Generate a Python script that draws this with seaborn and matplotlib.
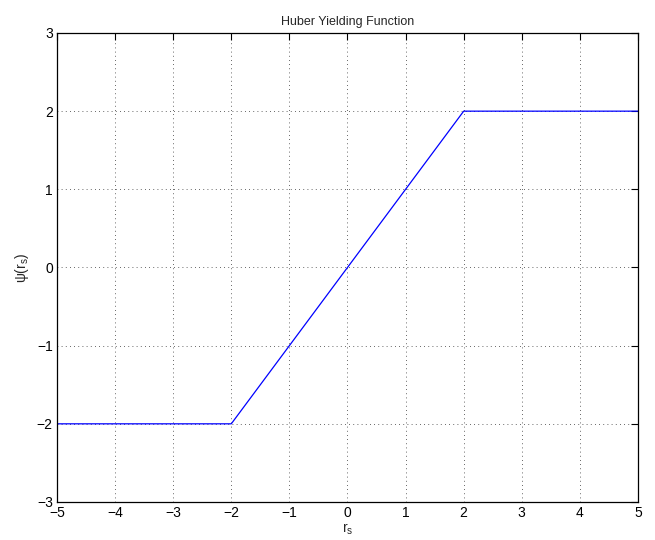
import matplotlib
matplotlib.use("Agg")
import matplotlib.pyplot as plt
import seaborn as sns
import pandas as pd

r_s = [-5, -2, 2, 5]
psi = [-2, -2, 2, 2]
x_ticks = [-5, -4, -3, -2, -1, 0, 1, 2, 3, 4, 5]
y_ticks = [-3, -2, -1, 0, 1, 2, 3]

sns.set_style("white")
plt.rcParams['font.family'] = ['Liberation Sans', 'DejaVu Sans']
plt.rcParams['mathtext.default'] = 'regular'

df = pd.DataFrame({"r": r_s, "psi": psi})
fig = plt.figure(figsize=(6.55, 5.4), dpi=100)
ax = fig.add_axes([0.087, 0.0704, 0.887, 0.8685])
sns.lineplot(data=df, x="r", y="psi", ax=ax, color=(0, 0, 1), linewidth=0.9, sort=False)

ax.set_xlim(-5, 5)
ax.set_ylim(-3, 3)
ax.set_xticks(x_ticks)
ax.set_yticks(y_ticks)
ax.set_xticklabels([str(t).replace('-', '\u2212') for t in x_ticks])
ax.set_yticklabels([str(t).replace('-', '\u2212') for t in y_ticks])
ax.grid(True, linestyle=(0, (1, 4)), color='black', linewidth=0.6, alpha=0.8)
ax.tick_params(direction='in', length=5, width=0.8, top=True, right=True,
               labelsize=10, colors='black', pad=3)
for s in ax.spines.values():
    s.set_color('black')
    s.set_linewidth(0.9)
ax.set_xlabel('r$_s$', fontsize=10, labelpad=1)
ax.set_ylabel('\u03c8(r$_s$)', fontsize=10, labelpad=4)
ax.set_title('Huber Yielding Function', fontsize=9, pad=6)

fig.savefig('out.png', dpi=100)
